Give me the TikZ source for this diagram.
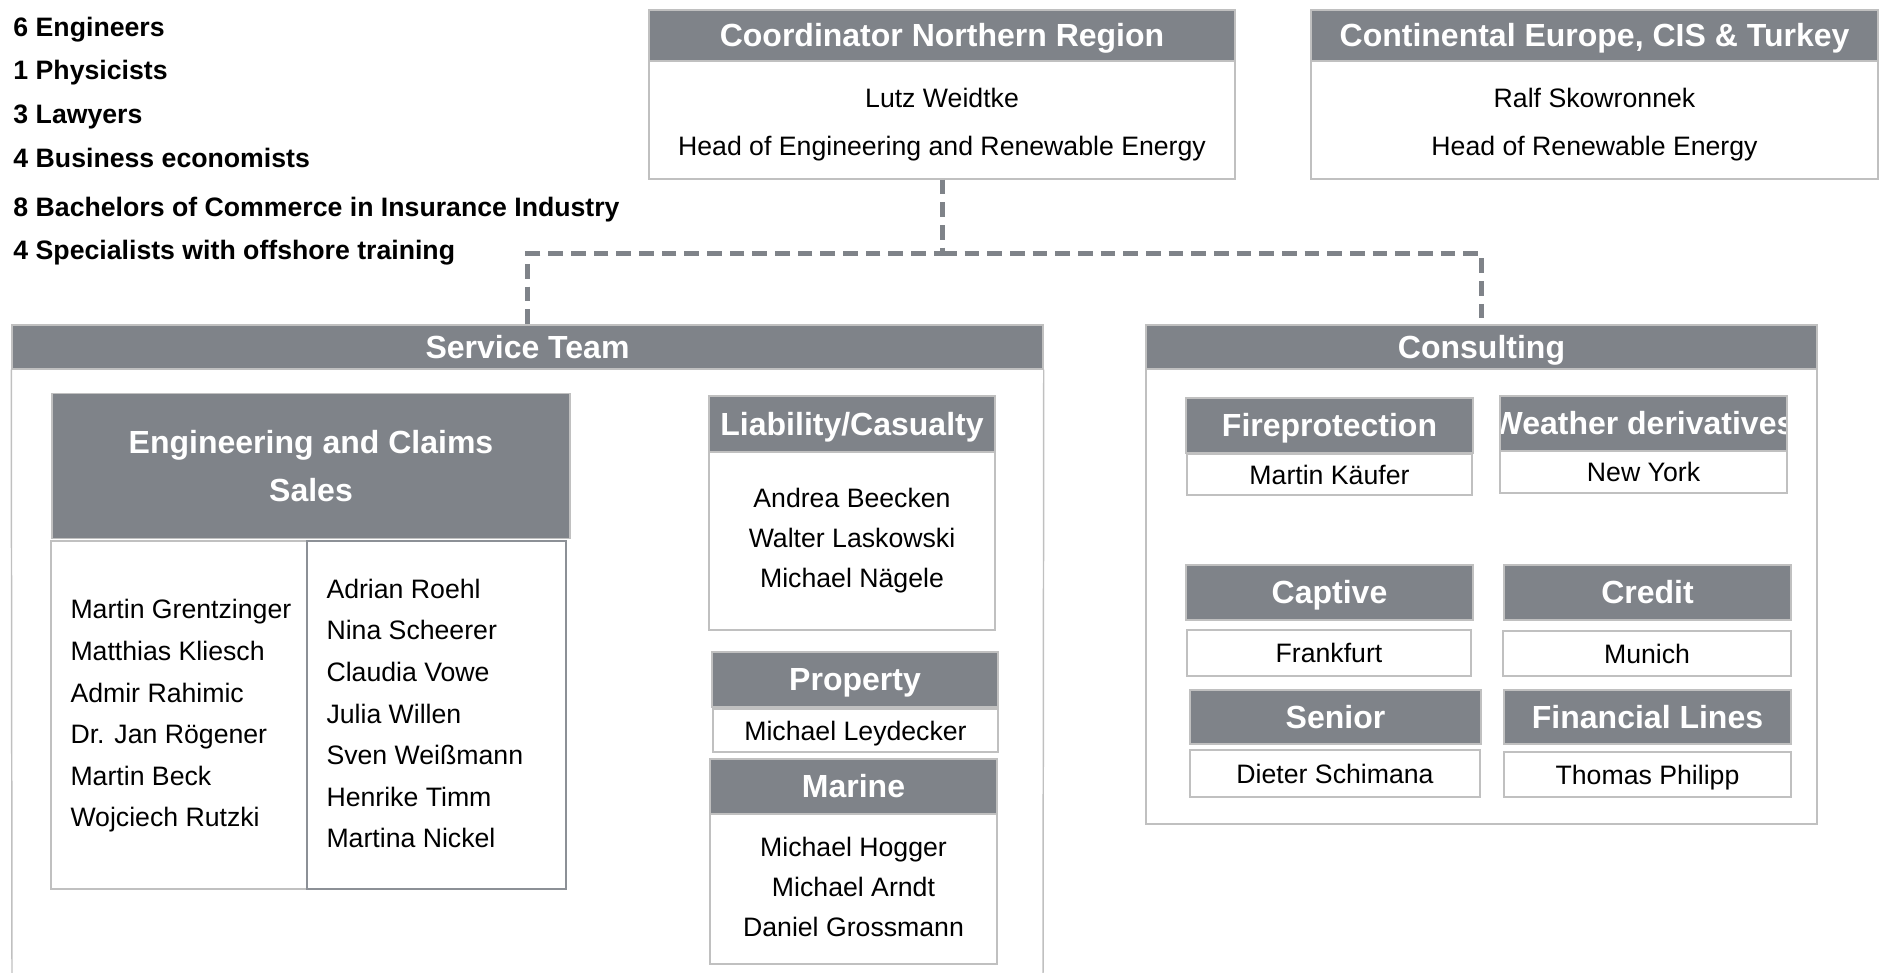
\documentclass[tikz,border=0pt]{standalone}
\usepackage{fontspec}
\setmainfont{Liberation Sans}
\definecolor{hdrgray}{RGB}{127,131,137}
\definecolor{rulegray}{RGB}{192,192,192}
\definecolor{colgray}{RGB}{140,144,150}

\tikzset{every picture/.style={line width=0.75pt}}
\tikzset{
  boxdim/.style 2 args={minimum width=#1*0.75pt, minimum height=#2*0.75pt},
  hdrbase/.style={draw=rulegray, line width=1.1pt, fill=hdrgray, text=white, inner sep=0pt, font=\fontsize{24}{36}\selectfont\bfseries},
  hdr/.style={hdrbase, text height=17.2pt, text depth=0pt},
  bodybox/.style={draw=rulegray, line width=1.1pt, fill=white, inner sep=0pt, align=center, font=\fontsize{20}{30}\selectfont},
  oneline/.style={text height=14.3pt, text depth=0pt},
  namelist/.style={inner sep=0pt, align=left, font=\fontsize{20}{31.2}\selectfont},
  headtext/.style={inner sep=0pt, align=center, font=\fontsize{20}{36}\selectfont},
  dashlink/.style={draw=hdrgray, line width=3.75pt, dash pattern=on 11pt off 6pt},
  staff/.style={anchor=west, inner sep=0pt, text height=14.3pt, text depth=0pt, font=\fontsize{20}{24}\selectfont\bfseries},
}

\begin{document}
\begin{tikzpicture}[x=0.75pt,y=0.75pt,yscale=-1,xscale=1]
\useasboundingbox (0,0) rectangle (1901,973);

% Text Node
\foreach \y/\txt [count=\i] in {27/6 Engineers, 70/1 Physicists, 114/3 Lawyers, 158/4 Business economists, 207/8 Bachelors of Commerce in Insurance Industry, 250/4 Specialists with offshore training}
  \node[staff] (staff\i) at (13,\y) {\txt};

%Shape: Rectangle [coordinator]
\node[hdr, boxdim={586}{51}] (coord) at (942,35.5) {Coordinator Northern Region};
\node[bodybox, boxdim={586}{118}] (coordbody) at (942,120) {};
\node[headtext] (coordtext) at (942,125) {Lutz Weidtke\\Head of Engineering and Renewable Energy};
%Shape: Rectangle [continental]
\node[hdr, boxdim={567}{51}] (conti) at (1594.5,35.5) {Continental Europe, CIS \& Turkey};
\node[bodybox, boxdim={567}{118}] (contibody) at (1594.5,120) {};
\node[headtext] (contitext) at (1594.5,125) {Ralf Skowronnek\\Head of Renewable Energy};

%Shape: Rectangle [service team]
\node[hdr, boxdim={1031}{44}] (service) at (527.5,347) {Service Team};
\draw[rulegray, line width=1.1pt] (service.south west) -- (12,973);
\draw[rulegray, line width=1.1pt] (service.south east) -- (1043,973);

%Shape: Rectangle [engineering and claims]
\node[hdrbase, boxdim={518}{145}, align=center] (engclaims) at (311,466) {Engineering and Claims\\Sales};
\node[bodybox, boxdim={256}{348}] (engcolA) at (179,715) {};
\node[bodybox, draw=colgray, boxdim={259}{348}] (engcolB) at (436.5,715) {};
% Text Node
\node[namelist, anchor=west] (engnamesA) at (70,716) {Martin Grentzinger\\Matthias Kliesch\\Admir Rahimic\\Dr. Jan Rögener\\Martin Beck\\Wojciech Rutzki};
\node[namelist, anchor=west] (engnamesB) at (326,713.5) {Adrian Roehl\\Nina Scheerer\\Claudia Vowe\\Julia Willen\\Sven Weißmann\\Henrike Timm\\Martina Nickel};

%Shape: Rectangle [liability]
\node[hdr, boxdim={286}{56}] (liab) at (852,424) {Liability/Casualty};
\node[bodybox, boxdim={286}{178}] (liabbody) at (852,541) {Andrea Beecken\\Walter Laskowski\\Michael Nägele};
%Shape: Rectangle [property]
\node[hdr, boxdim={286}{55}] (prop) at (855,679.5) {Property};
\node[bodybox, oneline, boxdim={285}{43}] (propbody) at (855.5,730.5) {Michael Leydecker};
%Shape: Rectangle [marine]
\node[hdr, boxdim={287}{55}] (marine) at (853.5,786.5) {Marine};
\node[bodybox, boxdim={287}{150}] (marinebody) at (853.5,889) {};
\node[headtext, font=\fontsize{20}{30}\selectfont] (marinetext) at (853.5,886.5) {Michael Hogger\\Michael Arndt\\Daniel Grossmann};

%Shape: Rectangle [consulting]
\node[draw=rulegray, line width=1.1pt, boxdim={671}{499}] (consultframe) at (1481.5,574.5) {};
\node[hdr, boxdim={671}{44}] (consult) at (1481.5,347) {Consulting};

\node[hdr, boxdim={287}{55}] (fire) at (1329.5,425.5) {Fireprotection};
\node[bodybox, oneline, boxdim={285}{41}] (firebody) at (1329.5,474.5) {Martin Käufer};
\node[hdr, boxdim={287}{55}, path picture={\node[fill=none, draw=none, text=white, text height=17.2pt, text depth=0pt, font=\fontsize{24}{36}\selectfont\bfseries] at (path picture bounding box.center) {Weather derivatives};}] (weather) at (1643.5,423.5) {};
\node[bodybox, oneline, boxdim={287}{42}] (weatherbody) at (1643.5,472) {New York};

\node[hdr, boxdim={287}{55}] (captive) at (1329.5,592.5) {Captive};
\node[bodybox, oneline, boxdim={284}{46}] (captivebody) at (1329,653) {Frankfurt};
\node[hdr, boxdim={287}{55}] (credit) at (1647.5,592.5) {Credit};
\node[bodybox, oneline, boxdim={288}{45}] (creditbody) at (1647,653.5) {Munich};

\node[hdr, boxdim={291}{54}] (senior) at (1335.5,717) {Senior};
\node[bodybox, oneline, boxdim={290}{47}] (seniorbody) at (1335,773.5) {Dieter Schimana};
\node[hdr, boxdim={287}{54}] (finlines) at (1647.5,717) {Financial Lines};
\node[bodybox, oneline, boxdim={287}{45}] (finlinesbody) at (1647.5,774.5) {Thomas Philipp};

%Straight Lines [dashed links]
\coordinate (split) at (942,254);
\draw[dashlink] (coordbody.south) -- (split) -| (service.north);
\draw[dashlink] (split) -| (consult.north);

\end{tikzpicture}
\end{document}
